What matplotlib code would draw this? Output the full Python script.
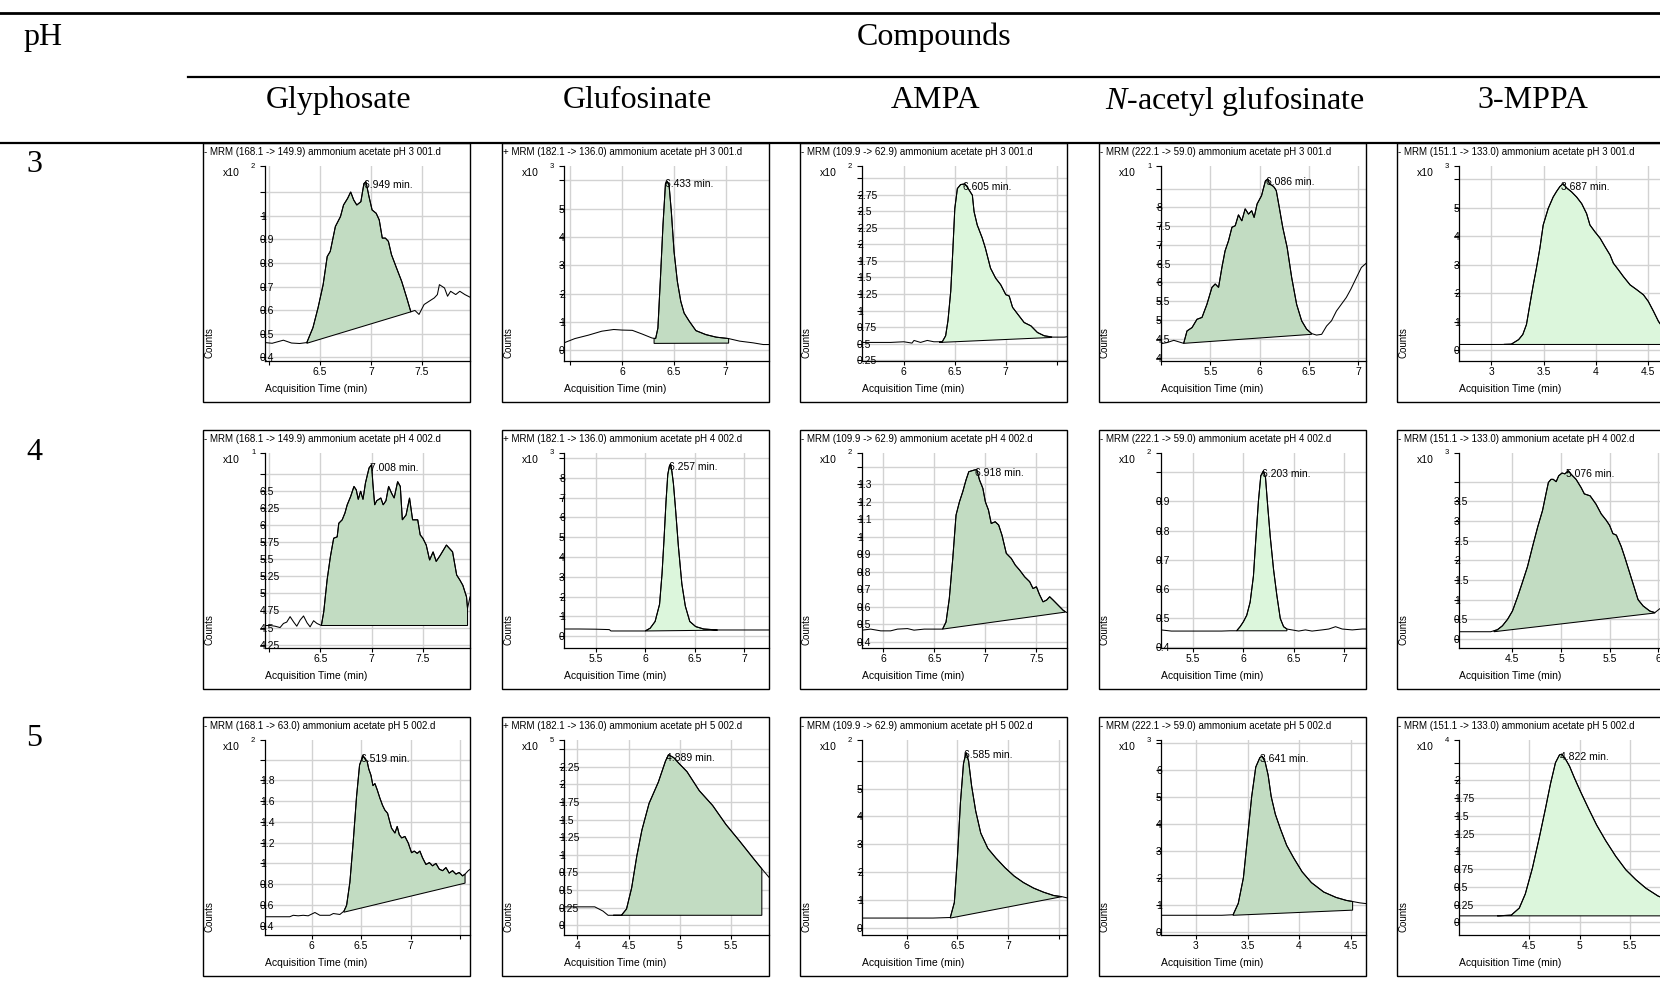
import numpy as np
import matplotlib.pyplot as plt
from matplotlib.patches import Rectangle, Polygon
from matplotlib.lines import Line2D

plt.rcParams['font.family'] = ['Liberation Sans', 'DejaVu Sans']
plt.rcParams['mathtext.fontset'] = 'custom'
plt.rcParams['mathtext.rm'] = 'Liberation Serif'
plt.rcParams['mathtext.it'] = 'Liberation Serif:italic'

# table header
compounds = ['Glyphosate', 'Glufosinate', 'AMPA', r'$\mathit{N}$-acetyl glufosinate', '3-MPPA']
ph_rows = ['3', '4', '5']

titles = [
    ['- MRM (168.1 -> 149.9) ammonium acetate pH 3 001.d', '+ MRM (182.1 -> 136.0) ammonium acetate pH 3 001.d',
     '- MRM (109.9 -> 62.9) ammonium acetate pH 3 001.d', '- MRM (222.1 -> 59.0) ammonium acetate pH 3 001.d',
     '- MRM (151.1 -> 133.0) ammonium acetate pH 3 001.d'],
    ['- MRM (168.1 -> 149.9) ammonium acetate pH 4 002.d', '+ MRM (182.1 -> 136.0) ammonium acetate pH 4 002.d',
     '- MRM (109.9 -> 62.9) ammonium acetate pH 4 002.d', '- MRM (222.1 -> 59.0) ammonium acetate pH 4 002.d',
     '- MRM (151.1 -> 133.0) ammonium acetate pH 4 002.d'],
    ['- MRM (168.1 -> 63.0) ammonium acetate pH 5 002.d', '+ MRM (182.1 -> 136.0) ammonium acetate pH 5 002.d',
     '- MRM (109.9 -> 62.9) ammonium acetate pH 5 002.d', '- MRM (222.1 -> 59.0) ammonium acetate pH 5 002.d',
     '- MRM (151.1 -> 133.0) ammonium acetate pH 5 002.d'],
]

# retention time labels at peak apex
apex_rt = [['6.949', '6.433', '6.605', '6.086', '3.687'],
           ['7.008', '6.257', '6.918', '6.203', '5.076'],
           ['6.519', '4.889', '6.585', '3.641', '4.822']]

# y scale exponents (x10^n)
exponents = [[2, 3, 2, 1, 3],
             [1, 3, 2, 2, 3],
             [2, 5, 2, 3, 4]]

# ---- traces: (time min, counts in axis units) ----
gly3 = [(5.96, .463), (6.03, .460), (6.14, .473), (6.22, .461), (6.30, .459), (6.37, .463), (6.43, .526),
        (6.48, .610), (6.53, .708), (6.57, .827), (6.60, .849), (6.65, .954), (6.70, .996), (6.73, 1.045),
        (6.77, 1.073), (6.80, 1.100), (6.83, 1.066), (6.86, 1.045), (6.90, 1.059), (6.93, 1.136), (6.95, 1.143),
        (6.98, 1.080), (7.01, 1.024), (7.05, 1.010), (7.08, .982), (7.11, .905), (7.14, .905), (7.17, .891),
        (7.20, .835), (7.25, .778), (7.30, .722), (7.35, .652), (7.39, .593), (7.43, .599), (7.47, .582),
        (7.52, .624), (7.57, .638), (7.62, .652), (7.65, .666), (7.67, .708), (7.72, .694), (7.75, .659),
        (7.78, .680), (7.83, .666), (7.87, .680), (7.92, .666), (7.97, .655)]
glu3 = [(5.44, .27), (5.545, .42), (5.675, .54), (5.805, .68), (5.92, .74), (6.0, .72), (6.10, .71),
        (6.195, .58), (6.29, .44), (6.325, .42), (6.347, .79), (6.373, 2.66), (6.396, 4.42), (6.42, 5.88),
        (6.436, 5.96), (6.455, 5.82), (6.477, 4.88), (6.503, 3.48), (6.535, 2.43), (6.568, 1.73), (6.60, 1.32),
        (6.65, 1.03), (6.714, .70), (6.81, .56), (6.91, .47), (7.03, .42), (7.136, .33), (7.266, .27),
        (7.364, .21), (7.45, .21)]
ampa3 = [(5.59, .52), (5.74, .52), (5.87, .52), (6.0, .53), (6.08, .51), (6.10, .55), (6.164, .52), (6.23, .55),
         (6.295, .53), (6.377, .53), (6.41, .62), (6.433, .85), (6.46, 1.29), (6.48, 1.89), (6.50, 2.54),
         (6.525, 2.84), (6.557, 2.90), (6.60, 2.91), (6.623, 2.86), (6.672, 2.74), (6.689, 2.49), (6.72, 2.29),
         (6.77, 2.09), (6.80, 1.94), (6.85, 1.64), (6.90, 1.49), (6.95, 1.39), (7.0, 1.24), (7.033, 1.22),
         (7.066, 1.05), (7.115, .95), (7.18, .82), (7.246, .77), (7.31, .67), (7.377, .62), (7.46, .60),
         (7.508, .60), (7.574, .60), (7.62, .61)]
nag3 = [(5.0, 4.37), (5.06, 4.40), (5.13, 4.46), (5.18, 4.42), (5.23, 4.38), (5.264, 4.71), (5.315, 4.80),
        (5.365, 5.02), (5.416, 5.07), (5.466, 5.42), (5.517, 5.87), (5.55, 5.96), (5.584, 5.87), (5.618, 6.40),
        (5.65, 6.84), (5.685, 7.11), (5.72, 7.47), (5.753, 7.51), (5.786, 7.80), (5.82, 7.64), (5.854, 7.96),
        (5.888, 7.82), (5.92, 7.91), (5.945, 7.73), (5.975, 8.09), (6.02, 8.31), (6.06, 8.71), (6.086, 8.75),
        (6.10, 8.62), (6.13, 8.58), (6.15, 8.53), (6.17, 8.44), (6.20, 8.0), (6.235, 7.47), (6.28, 6.93),
        (6.326, 6.13), (6.376, 5.42), (6.427, 4.98), (6.477, 4.76), (6.528, 4.64), (6.578, 4.60), (6.63, 4.62),
        (6.68, 4.84), (6.73, 4.98), (6.78, 5.24), (6.83, 5.42), (6.88, 5.60), (6.926, 5.82), (6.983, 6.13),
        (7.033, 6.40), (7.09, 6.53)]
mppa3 = [(2.69, .21), (2.82, .21), (2.98, .21), (3.1, .21), (3.19, .22), (3.26, .38), (3.30, .56), (3.335, .91),
         (3.367, 1.60), (3.40, 2.30), (3.43, 2.88), (3.463, 3.58), (3.495, 4.40), (3.543, 4.98), (3.59, 5.38),
         (3.623, 5.58), (3.655, 5.75), (3.685, 5.85), (3.72, 5.70), (3.767, 5.56), (3.815, 5.38), (3.863, 5.15),
         (3.91, 4.80), (3.942, 4.40), (3.99, 4.16), (4.04, 3.93), (4.086, 3.64), (4.134, 3.35), (4.166, 3.06),
         (4.214, 2.83), (4.262, 2.59), (4.326, 2.30), (4.39, 2.13), (4.454, 1.95), (4.50, 1.72), (4.55, 1.37),
         (4.597, 1.02), (4.63, .85), (4.70, .60)]

gly4 = [(5.96, 4.53), (6.01, 4.53), (6.057, 4.52), (6.107, 4.50), (6.14, 4.56), (6.172, 4.58), (6.205, 4.66),
        (6.24, 4.58), (6.27, 4.52), (6.303, 4.61), (6.336, 4.67), (6.37, 4.57), (6.40, 4.51), (6.434, 4.60),
        (6.467, 4.56), (6.51, 4.53), (6.533, 4.73), (6.566, 5.20), (6.598, 5.54), (6.63, 5.81), (6.664, 5.83),
        (6.68, 6.03), (6.713, 6.08), (6.74, 6.18), (6.762, 6.30), (6.795, 6.42), (6.828, 6.57), (6.85, 6.52),
        (6.87, 6.38), (6.893, 6.50), (6.916, 6.38), (6.94, 6.62), (6.975, 6.84), (7.0, 6.89), (7.012, 6.62),
        (7.03, 6.30), (7.05, 6.36), (7.09, 6.40), (7.113, 6.30), (7.14, 6.36), (7.166, 6.57), (7.195, 6.47),
        (7.22, 6.40), (7.254, 6.64), (7.28, 6.57), (7.30, 6.08), (7.336, 6.15), (7.37, 6.40), (7.40, 6.08),
        (7.45, 6.08), (7.474, 5.86), (7.50, 5.81), (7.533, 5.71), (7.566, 5.49), (7.60, 5.61), (7.63, 5.47),
        (7.67, 5.56), (7.73, 5.71), (7.79, 5.61), (7.83, 5.27), (7.86, 5.20), (7.89, 5.12), (7.926, 4.95),
        (7.936, 4.78), (7.96, 4.95)]
glu4 = [(5.18, .36), (5.33, .36), (5.50, .35), (5.637, .33), (5.654, .26), (5.773, .26), (5.91, .26), (6.0, .26),
        (6.05, .40), (6.10, .74), (6.145, 1.61), (6.17, 3.16), (6.19, 4.89), (6.21, 6.79), (6.228, 8.17),
        (6.245, 8.60), (6.257, 8.69), (6.27, 8.30), (6.285, 7.70), (6.305, 6.50), (6.335, 4.54), (6.37, 2.64),
        (6.405, 1.52), (6.45, .74), (6.51, .48), (6.59, .36), (6.73, .31), (6.865, .31), (7.07, .31), (7.25, .31)]
ampa4 = [(5.79, .467), (5.875, .473), (5.974, .463), (6.07, .463), (6.138, .473), (6.236, .476), (6.30, .467),
         (6.40, .473), (6.50, .473), (6.58, .473), (6.614, .514), (6.646, .648), (6.68, .877), (6.712, 1.125),
         (6.745, 1.20), (6.778, 1.259), (6.81, 1.326), (6.837, 1.373), (6.893, 1.383), (6.916, 1.385),
         (6.942, 1.326), (6.975, 1.278), (7.0, 1.20), (7.03, 1.154), (7.057, 1.077), (7.096, 1.087),
         (7.13, 1.068), (7.162, 1.011), (7.205, .906), (7.254, .877), (7.293, .839), (7.336, .81), (7.385, .772),
         (7.434, .744), (7.467, .705), (7.50, .715), (7.53, .671), (7.565, .629), (7.60, .639), (7.63, .658),
         (7.664, .639), (7.713, .61), (7.762, .581), (7.795, .568), (7.82, .576)]
nag4 = [(5.18, .46), (5.283, .456), (5.383, .456), (5.517, .456), (5.65, .456), (5.783, .456), (5.867, .457),
        (5.933, .457), (5.967, .471), (6.0, .488), (6.033, .51), (6.067, .555), (6.10, .645), (6.123, .768),
        (6.15, .903), (6.173, .988), (6.2, 1.005), (6.22, .982), (6.24, .892), (6.267, .78), (6.30, .667),
        (6.333, .578), (6.367, .499), (6.40, .471), (6.433, .463), (6.483, .46), (6.55, .456), (6.617, .46),
        (6.683, .456), (6.783, .46), (6.85, .463), (6.917, .471), (6.983, .463), (7.083, .46), (7.183, .463),
        (7.24, .463)]
mppa4 = [(3.95, .184), (4.10, .184), (4.276, .184), (4.345, .234), (4.397, .335), (4.45, .50), (4.50, .71),
         (4.55, 1.05), (4.60, 1.42), (4.655, 1.84), (4.707, 2.35), (4.76, 2.85), (4.81, 3.27), (4.845, 3.69),
         (4.87, 3.98), (4.897, 4.06), (4.92, 4.06), (4.95, 4.0), (4.976, 4.15), (5.01, 4.22), (5.04, 4.20),
         (5.076, 4.28), (5.10, 4.20), (5.155, 4.06), (5.207, 3.85), (5.24, 3.69), (5.30, 3.64), (5.36, 3.43),
         (5.414, 3.18), (5.465, 3.02), (5.50, 2.89), (5.534, 2.68), (5.57, 2.64), (5.62, 2.35), (5.655, 2.09),
         (5.707, 1.68), (5.76, 1.26), (5.793, 1.0), (5.845, .84), (5.914, .71), (5.966, .67), (6.017, .77),
         (6.07, .80)]

gly5 = [(5.53, .486), (5.646, .486), (5.78, .486), (5.815, .50), (5.865, .495), (5.916, .50), (5.966, .495),
        (6.034, .527), (6.084, .50), (6.185, .50), (6.22, .517), (6.286, .508), (6.327, .54), (6.354, .596),
        (6.387, .818), (6.42, 1.198), (6.454, 1.64), (6.485, 1.95), (6.52, 2.04), (6.545, 2.0), (6.56, 1.99),
        (6.578, 1.91), (6.60, 1.85), (6.62, 1.75), (6.64, 1.77), (6.663, 1.71), (6.69, 1.63), (6.717, 1.56),
        (6.74, 1.515), (6.768, 1.483), (6.785, 1.42), (6.808, 1.34), (6.842, 1.293), (6.865, 1.357),
        (6.886, 1.277), (6.91, 1.246), (6.943, 1.26), (6.976, 1.198), (7.01, 1.103), (7.037, 1.119),
        (7.067, 1.097), (7.094, 1.119), (7.12, 1.056), (7.155, .99), (7.19, 1.008), (7.222, .977), (7.256, 1.0),
        (7.29, .945), (7.323, .93), (7.357, .96), (7.39, .907), (7.424, .93), (7.458, .897), (7.49, .913),
        (7.525, .88), (7.55, .897), (7.582, .93), (7.61, .95)]
glu5 = [(3.87, .26), (4.17, .26), (4.25, .20), (4.30, .14), (4.43, .14), (4.48, .23), (4.53, .53), (4.58, .98),
        (4.63, 1.35), (4.70, 1.73), (4.79, 2.03), (4.86, 2.33), (4.889, 2.42), (4.94, 2.38), (4.99, 2.30),
        (5.07, 2.18), (5.19, 1.91), (5.32, 1.70), (5.45, 1.43), (5.58, 1.20), (5.70, .98), (5.80, .80),
        (5.87, .68)]
ampa5 = [(5.56, .34), (5.95, .34), (6.26, .34), (6.43, .36), (6.47, .9), (6.50, 2.5), (6.53, 4.5), (6.56, 5.9),
         (6.585, 6.3), (6.61, 6.0), (6.64, 5.1), (6.68, 4.2), (6.73, 3.4), (6.80, 2.85), (6.88, 2.5), (6.97, 2.15),
         (7.06, 1.85), (7.15, 1.62), (7.25, 1.42), (7.35, 1.27), (7.45, 1.15), (7.53, 1.11), (7.60, 1.05)]
nag5 = [(2.66, .61), (2.95, .61), (3.25, .61), (3.36, .63), (3.41, 1.05), (3.46, 2.0), (3.50, 3.5), (3.54, 5.0),
        (3.58, 6.1), (3.62, 6.45), (3.641, 6.5), (3.67, 6.3), (3.70, 5.8), (3.73, 5.0), (3.77, 4.35), (3.82, 3.8),
        (3.88, 3.2), (3.95, 2.72), (4.03, 2.22), (4.12, 1.82), (4.24, 1.47), (4.36, 1.27), (4.46, 1.16),
        (4.52, 1.12), (4.59, 1.07), (4.68, 1.03)]
mppa5 = [(3.80, .09), (4.05, .09), (4.18, .09), (4.32, .10), (4.40, .20), (4.46, .40), (4.53, .76), (4.60, 1.2),
         (4.66, 1.6), (4.71, 1.95), (4.76, 2.25), (4.80, 2.36), (4.822, 2.37), (4.86, 2.30), (4.90, 2.2),
         (4.95, 2.03), (5.01, 1.84), (5.09, 1.6), (5.17, 1.37), (5.26, 1.15), (5.36, .93), (5.46, .74),
         (5.56, .60), (5.66, .48), (5.78, .37), (5.90, .30)]

traces = [[gly3, glu3, ampa3, nag3, mppa3],
          [gly4, glu4, ampa4, nag4, mppa4],
          [gly5, glu5, ampa5, nag5, mppa5]]

# integration baselines (t0, y0, t1, y1)
baselines = [[(6.37, .46, 7.39, .593), (6.31, .25, 7.03, .26), (6.35, .52, 7.45, .595), (5.23, 4.38, 6.528, 4.62),
              (3.12, .21, 4.70, .21)],
             [(6.51, 4.53, 7.936, 4.53), (6.0, .26, 6.73, .30), (6.58, .473, 7.78, .57), (5.933, .457, 6.433, .457),
              (4.31, .184, 5.966, .66)],
             [(6.327, .53, 7.55, .81), (4.35, .14, 5.80, .14), (6.43, .34, 7.53, 1.11), (3.36, .61, 4.52, .80),
              (4.18, .09, 5.90, .09)]]

xlims = [[(5.96, 7.97), (5.44, 7.42), (5.59, 7.60), (5.0, 7.08), (2.69, 4.65)],
         [(5.96, 7.96), (5.18, 7.25), (5.79, 7.80), (5.18, 7.22), (3.95, 6.06)],
         [(5.53, 7.60), (3.87, 5.87), (5.56, 7.58), (2.66, 4.65), (3.80, 5.84)]]
ylims = [[(.385, 1.21), (-.37, 6.5), (.24, 3.18), (3.91, 9.1), (-.37, 6.47)],
         [(4.2, 7.06), (-.6, 9.25), (.365, 1.48), (.398, 1.066), (-.23, 4.73)],
         [(.31, 2.19), (-.14, 2.63), (-.27, 6.75), (-.12, 7.1), (-.18, 2.57)]]

xticks = [[[6, 6.5, 7, 7.5], [5.5, 6, 6.5, 7], [6, 6.5, 7, 7.5], [5, 5.5, 6, 6.5, 7], [3, 3.5, 4, 4.5]],
          [[6, 6.5, 7, 7.5], [5.5, 6, 6.5, 7], [6, 6.5, 7, 7.5], [5.5, 6, 6.5, 7], [4.5, 5, 5.5, 6]],
          [[6, 6.5, 7, 7.5], [4, 4.5, 5, 5.5], [6, 6.5, 7, 7.5], [3, 3.5, 4, 4.5], [4.5, 5, 5.5]]]
xhidden = [[[6], [5.5], [7.5], [5], []],
           [[6], [], [], [], []],
           [[7.5], [], [7.5], [], []]]

yticks = [[[.4, .5, .6, .7, .8, .9, 1.0, 1.1], [0, 1, 2, 3, 4, 5, 6],
           [.25, .5, .75, 1.0, 1.25, 1.5, 1.75, 2.0, 2.25, 2.5, 2.75, 3.0],
           [4, 4.5, 5, 5.5, 6, 6.5, 7, 7.5, 8, 8.5], [0, 1, 2, 3, 4, 5, 6]],
          [[4.25, 4.5, 4.75, 5, 5.25, 5.5, 5.75, 6, 6.25, 6.5, 6.75], [0, 1, 2, 3, 4, 5, 6, 7, 8, 9],
           [.4, .5, .6, .7, .8, .9, 1.0, 1.1, 1.2, 1.3, 1.4], [.4, .5, .6, .7, .8, .9, 1.0],
           [0, .5, 1, 1.5, 2, 2.5, 3, 3.5, 4]],
          [[.4, .6, .8, 1.0, 1.2, 1.4, 1.6, 1.8, 2.0], [0, .25, .5, .75, 1, 1.25, 1.5, 1.75, 2, 2.25, 2.5],
           [0, 1, 2, 3, 4, 5, 6], [0, 1, 2, 3, 4, 5, 6, 7], [0, .25, .5, .75, 1, 1.25, 1.5, 1.75, 2, 2.25]]]

fills = [['dark', 'dark', 'light', 'dark', 'light'],
         ['dark', 'light', 'dark', 'light', 'dark'],
         ['dark', 'dark', 'dark', 'dark', 'light']]
fill_colors = {'dark': '#c2dcc2', 'light': '#dcf6dc'}

# ---- layout in pixels ----
FW, FH = 1660, 999
col_left = [203, 502, 800, 1099, 1397]
row_top = [143, 430, 717]
PW, PH = 267, 259
AX_L, AX_T, AX_B = 62, 23, 218


def fx(px):
    return px / FW


def fy(py):
    return 1 - py / FH


fig = plt.figure(figsize=(16.6, 9.99), dpi=100)

# table rules and header
serif = 'Liberation Serif'
fig.add_artist(Line2D([0, 1], [fy(12.7), fy(12.7)], transform=fig.transFigure, color='black', lw=2.0))
fig.add_artist(Line2D([fx(188), 1], [fy(77), fy(77)], transform=fig.transFigure, color='black', lw=1.6))
fig.add_artist(Line2D([0, 1], [fy(142.5), fy(142.5)], transform=fig.transFigure, color='black', lw=1.6))
fig.text(fx(23), fy(37.5), 'pH', family=serif, fontsize=23, ha='left', va='center')
fig.text(fx(934), fy(37.5), 'Compounds', family=serif, fontsize=23, ha='center', va='center')
for j, name in enumerate(compounds):
    fig.text(fx(col_left[j] + PW / 2 + 2), fy(100.5), name, family=serif, fontsize=23, ha='center', va='center')
for i, ph in enumerate(ph_rows):
    fig.text(fx(26), fy(row_top[i] + 22), ph, family=serif, fontsize=23, ha='left', va='center')

for i in range(3):
    for j in range(5):
        left, top = col_left[j], row_top[i]
        fig.add_artist(Rectangle((fx(left), fy(top + PH)), PW / FW, PH / FH, transform=fig.transFigure,
                                 fill=False, ec='black', lw=1.0, zorder=5))
        ax = fig.add_axes([fx(left + AX_L), fy(top + AX_B), (PW - AX_L) / FW, (AX_B - AX_T) / FH])
        ax.set_facecolor('none')

        t, y = np.array(traces[i][j]).T
        ax.plot(t, y, color='black', lw=0.75, zorder=3)

        # integrated peak area
        t0, y0, t1, y1 = baselines[i][j]
        m = (t > t0) & (t < t1)
        tt = np.concatenate([[t0], t[m], [t1]])
        yy = np.concatenate([[np.interp(t0, t, y)], y[m], [np.interp(t1, t, y)]])
        poly = list(zip(tt, yy)) + [(t1, y1), (t0, y0)]
        ax.add_patch(Polygon(poly, closed=True, fc=fill_colors[fills[i][j]], ec='black', lw=0.75, zorder=2))

        k = np.argmax(yy)
        ax.annotate(apex_rt[i][j] + ' min.', xy=(tt[k], yy[k]), xytext=(-2, -3), textcoords='offset pixels',
                    ha='left', va='center', fontsize=7.5, zorder=4, annotation_clip=False)

        ax.set_xlim(*xlims[i][j])
        ax.set_ylim(*ylims[i][j])
        xt = xticks[i][j]
        ax.set_xticks(xt, labels=['' if v in xhidden[i][j] else '{:g}'.format(v) for v in xt])
        yt = yticks[i][j]
        ax.set_yticks(yt, labels=['{:g}'.format(v) for v in yt[:-1]] + [''])
        ax.set_yticks([ylims[i][j][1]], minor=True)
        ax.grid(True, which='major', color='#d2d2d2', lw=1.0)
        ax.set_axisbelow(True)
        ax.tick_params(axis='y', which='both', direction='out', length=3.6, width=0.8, pad=0, labelsize=7.5)
        ax.tick_params(axis='x', direction='out', length=3.0, width=0.8, pad=1.5, labelsize=7.5)
        for lab in ax.get_yticklabels():
            lab.set_horizontalalignment('left')
        for s in ['top', 'right']:
            ax.spines[s].set_visible(False)
        for s in ['left', 'bottom']:
            ax.spines[s].set_linewidth(0.9)

        fig.text(fx(left + 1), fy(top + 9), titles[i][j], fontsize=7, ha='left', va='center')
        fig.text(fx(left + 20), fy(top + 30), 'x10', fontsize=7.5, ha='left', va='center')
        fig.text(fx(left + 48), fy(top + 23), str(exponents[i][j]), fontsize=5.5, ha='left', va='center')
        fig.text(fx(left + 6), fy(top + 200), 'Counts', fontsize=7, rotation=90, ha='center', va='center')
        fig.text(fx(left + 62), fy(top + 246), 'Acquisition Time (min)', fontsize=7.5, ha='left', va='center')

fig.savefig('out.png', dpi=100)
